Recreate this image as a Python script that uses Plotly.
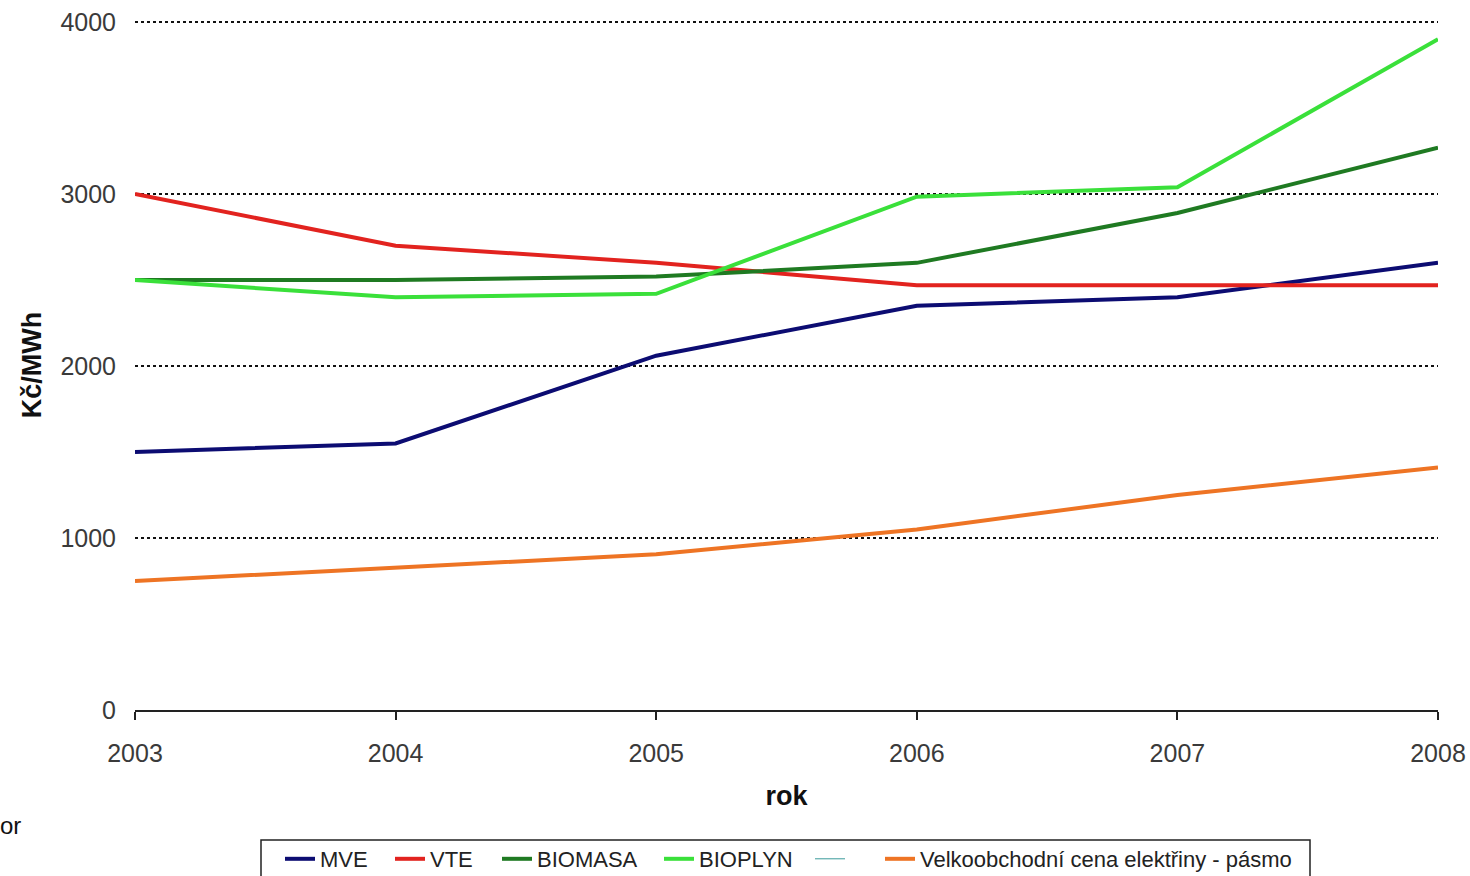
import plotly.graph_objects as go

years = [2003, 2004, 2005, 2006, 2007, 2008]
mve = [1500, 1550, 2060, 2350, 2400, 2600]
vte = [3000, 2700, 2600, 2470, 2470, 2470]
biomasa = [2500, 2500, 2520, 2600, 2890, 3270]
bioplyn = [2500, 2400, 2420, 2985, 3040, 3900]
velkoobchod = [750, 825, 905, 1050, 1250, 1410]
y_ticks = [0, 1000, 2000, 3000, 4000]

W, H = 1470, 876
L, R, T, B = 135, 32, 20, 166
PW, PH = W - L - R, H - T - B


def px_x(p):
    return (p - L) / PW


def px_y(p):
    return (H - B - p) / PH


series = [
    ("MVE", mve, "#0c0c72", 4, 320),
    ("VTE", vte, "#e2231f", 4, 430),
    ("BIOMASA", biomasa, "#1f7a22", 4, 537),
    ("BIOPLYN", bioplyn, "#3ae03a", 4, 699),
    (" ", None, "#3a9a9a", 1, 850),
    ("Velkoobchodní cena elektřiny - pásmo", velkoobchod, "#ee7424", 4, 920),
]

fig = go.Figure()
legend_layouts = {}
for i, (name, vals, color, w, text_px) in enumerate(series):
    lname = "legend" if i == 0 else f"legend{i + 1}"
    if vals is None:
        fig.add_trace(go.Scatter(x=[None], y=[None], mode="lines", name=name,
                                 line=dict(color=color, width=w), legend=lname))
    else:
        fig.add_trace(go.Scatter(x=years, y=vals, mode="lines", name=name,
                                 line=dict(color=color, width=w), legend=lname))
    legend_layouts[lname] = dict(
        orientation="h", x=px_x(text_px - 40), xanchor="left",
        y=px_y(859), yanchor="middle", borderwidth=0, bgcolor="rgba(0,0,0,0)",
        font=dict(size=22, color="#222222"))

fig.update_layout(
    width=W, height=H,
    margin=dict(l=L, r=R, t=T, b=B, autoexpand=False),
    paper_bgcolor="white", plot_bgcolor="white",
    font=dict(family="Liberation Sans, Arial, sans-serif", size=25, color="#3a3a3a"),
    showlegend=True,
    annotations=[dict(text="or", xref="paper", yref="paper", x=px_x(-2), y=px_y(825),
                      xanchor="left", yanchor="middle", showarrow=False,
                      font=dict(size=24, color="#111111"))],
    shapes=[dict(type="rect", xref="paper", yref="paper",
                 x0=px_x(261), x1=px_x(1310), y0=px_y(840), y1=px_y(900),
                 line=dict(color="#222222", width=1.5), fillcolor="rgba(0,0,0,0)")],
    **legend_layouts,
)
fig.update_xaxes(range=[2003, 2008], tickvals=years, ticktext=[str(y) for y in years],
                 automargin=False,
                 showgrid=False, zeroline=False, showline=True, linecolor="#222222",
                 linewidth=1.5, ticks="outside", ticklen=8, tickcolor="#222222",
                 tickwidth=1.5, ticklabelstandoff=12,
                 title=dict(text="<b>rok</b>", font=dict(size=27, color="#111111"), standoff=20))
fig.update_yaxes(range=[0, 4012], tickvals=y_ticks, automargin=False,
                 showgrid=True, gridcolor="#111111", gridwidth=2.2, griddash="dot",
                 zeroline=False, showline=False, ticks="", ticklabelstandoff=18,
                 title=dict(text="<b>Kč/MWh</b>", font=dict(size=27, color="#111111"), standoff=10))

fig.write_html("out.html", config={"displayModeBar": False},
               post_script="document.body.style.margin='0';document.body.style.overflow='hidden';")
